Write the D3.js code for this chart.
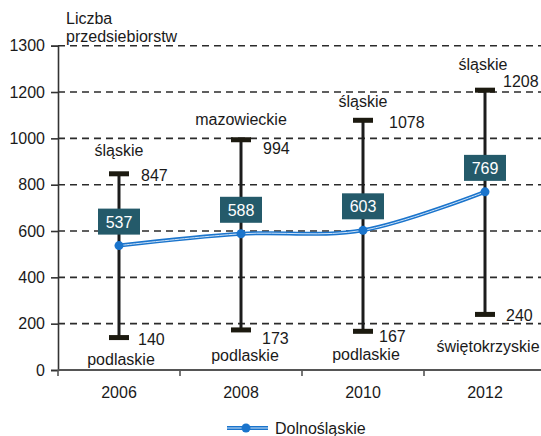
<!DOCTYPE html>
<meta charset="utf-8">
<head>
<style>
  body { margin: 0; background: #fff; }
  text { font-family: "Liberation Sans", Arial, sans-serif; fill: #1a1a1a; }
</style>
<script src="https://d3js.org/d3.v7.min.js"></script>
</head>
<body>
<div id="chart"></div>
<script>
// data
var years = ["2006", "2008", "2010", "2012"];
var avgValues = [537, 588, 603, 769];          // Dolnośląskie
var maxValues = [847, 994, 1078, 1208];
var maxRegions = ["śląskie", "mazowieckie", "śląskie", "śląskie"];
var minValues = [140, 173, 167, 240];
var minRegions = ["podlaskie", "podlaskie", "podlaskie", "świętokrzyskie"];
var yTicks = [0, 200, 400, 600, 800, 1000, 1200, 1400];
var yTickLabels = ["0", "200", "400", "600", "800", "1000", "1200", "1300"];

// label nudges (px, to text centre) so they sit like in the original
var maxNumOff = [[22, 1], [22, 8], [26, 2], [18, -9]];
var maxNameOff = [[0, -23], [0, -20], [0, -18], [-2, -25]];
var minNumOff = [[19, 1], [21, 8], [16, 5], [21, 1]];
var minNameOff = [[2, 22], [4, 26], [3, 24], [3, 33]];

var fs = 16;
var width = 541, height = 436;
var svg = d3.select("#chart").append("svg")
    .attr("width", width).attr("height", height);

var x = d3.scaleBand().domain(years).range([58, 546]);
var y = d3.scaleLinear().domain([0, 1400]).range([370, 45.7]);
var cx = function (i) { return x(years[i]) + x.bandwidth() / 2; };

// grid
svg.append("g").selectAll("line")
    .data(yTicks.slice(1))
    .enter().append("line")
    .attr("x1", 58).attr("x2", width)
    .attr("y1", function (d) { return y(d); })
    .attr("y2", function (d) { return y(d); })
    .attr("stroke", "#2b2b2b")
    .attr("stroke-width", 1.6)
    .attr("stroke-dasharray", "7,5");

// y axis
var yAxis = d3.axisLeft(y).tickValues(yTicks).tickSize(7).tickPadding(6)
    .tickFormat(function (d, i) { return yTickLabels[i]; });
var gy = svg.append("g").attr("transform", "translate(58,0)").call(yAxis);
gy.select(".domain").attr("stroke", "#333").attr("stroke-width", 1.6);
gy.selectAll(".tick line").attr("stroke", "#333").attr("stroke-width", 1.6);
gy.selectAll("text").attr("font-size", fs).attr("fill", "#1a1a1a")
    .style("font-family", "Liberation Sans, Arial, sans-serif");

// x axis
svg.append("line").attr("x1", 58).attr("x2", width).attr("y1", 370).attr("y2", 370)
    .attr("stroke", "#555").attr("stroke-width", 1.8);
var bounds = years.map(function (d) { return x(d); });
svg.append("g").selectAll("line").data(bounds).enter().append("line")
    .attr("x1", function (d) { return d; }).attr("x2", function (d) { return d; })
    .attr("y1", 370).attr("y2", 376)
    .attr("stroke", "#555").attr("stroke-width", 1.6);
svg.append("g").selectAll("text").data(years).enter().append("text")
    .attr("x", function (d, i) { return cx(i); })
    .attr("y", 398)
    .attr("text-anchor", "middle")
    .attr("font-size", fs)
    .text(function (d) { return d; });

// axis title
svg.append("text").attr("x", 66).attr("y", 24).attr("font-size", fs).text("Liczba");
svg.append("text").attr("x", 66).attr("y", 42).attr("font-size", fs).text("przedsiebiorstw");

// whiskers
var wh = svg.append("g");
years.forEach(function (yr, i) {
    wh.append("line")
        .attr("x1", cx(i)).attr("x2", cx(i))
        .attr("y1", y(maxValues[i])).attr("y2", y(minValues[i]))
        .attr("stroke", "#1c1c1c").attr("stroke-width", 3);
    [maxValues[i], minValues[i]].forEach(function (v) {
        wh.append("rect")
            .attr("x", cx(i) - 10).attr("y", y(v) - 2.5)
            .attr("width", 20).attr("height", 5)
            .attr("fill", "#1c1a10");
    });
    wh.append("text")
        .attr("x", cx(i) + maxNumOff[i][0]).attr("y", y(maxValues[i]) + maxNumOff[i][1] + 6)
        .attr("font-size", fs).text(maxValues[i]);
    wh.append("text")
        .attr("x", cx(i) + maxNameOff[i][0]).attr("y", y(maxValues[i]) + maxNameOff[i][1] + 5)
        .attr("text-anchor", "middle").attr("font-size", fs).text(maxRegions[i]);
    wh.append("text")
        .attr("x", cx(i) + minNumOff[i][0]).attr("y", y(minValues[i]) + minNumOff[i][1] + 6)
        .attr("font-size", fs).text(minValues[i]);
    wh.append("text")
        .attr("x", cx(i) + minNameOff[i][0]).attr("y", y(minValues[i]) + minNameOff[i][1] + 5)
        .attr("text-anchor", "middle").attr("font-size", fs).text(minRegions[i]);
});

// line
var line = d3.line()
    .x(function (d, i) { return cx(i); })
    .y(function (d) { return y(d); })
    .curve(d3.curveCardinal.tension(0));
svg.append("path").datum(avgValues).attr("d", line)
    .attr("fill", "none").attr("stroke", "#1a74cc").attr("stroke-width", 4);
svg.append("path").datum(avgValues).attr("d", line)
    .attr("fill", "none").attr("stroke", "#cfe3f7").attr("stroke-width", 1);
svg.append("g").selectAll("circle").data(avgValues).enter().append("circle")
    .attr("cx", function (d, i) { return cx(i); })
    .attr("cy", function (d) { return y(d); })
    .attr("r", 4.5).attr("fill", "#1a74cc");

// value boxes
var bx = svg.append("g");
avgValues.forEach(function (v, i) {
    bx.append("rect")
        .attr("x", cx(i) - 21).attr("y", y(v) - 37)
        .attr("width", 42).attr("height", 26)
        .attr("fill", "#245a6a");
    bx.append("text")
        .attr("x", cx(i)).attr("y", y(v) - 18)
        .attr("text-anchor", "middle").attr("font-size", fs)
        .style("fill", "#fff").text(v);
});

// legend
var lg = svg.append("g");
lg.append("line").attr("x1", 227).attr("x2", 268).attr("y1", 428).attr("y2", 428)
    .attr("stroke", "#1a74cc").attr("stroke-width", 4);
lg.append("line").attr("x1", 227).attr("x2", 268).attr("y1", 428).attr("y2", 428)
    .attr("stroke", "#cfe3f7").attr("stroke-width", 1);
lg.append("circle").attr("cx", 246).attr("cy", 428).attr("r", 4.5).attr("fill", "#1a74cc");
lg.append("text").attr("x", 275).attr("y", 434).attr("font-size", fs).text("Dolnośląskie");
</script>
</body>
